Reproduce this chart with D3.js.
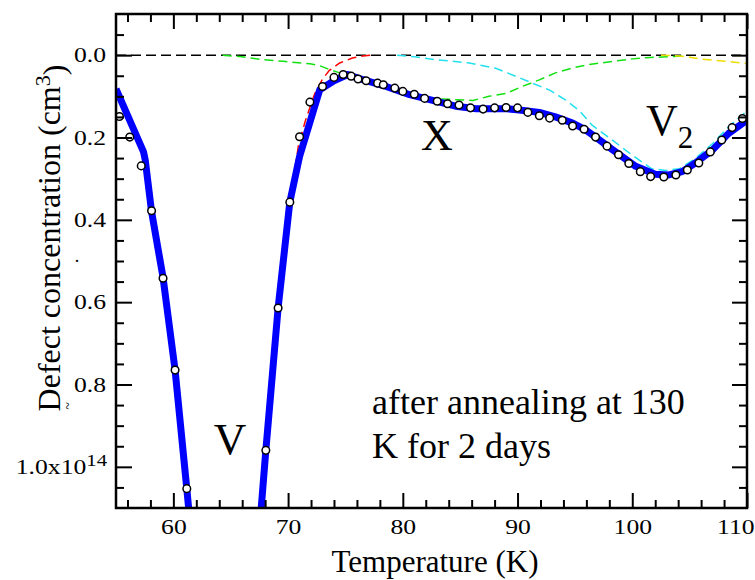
<!DOCTYPE html>
<meta charset="utf-8">
<head>
<script src="https://d3js.org/d3.v7.min.js"></script>
<style>
  body { margin: 0; background: #fff; }
  text { font-family: "Liberation Serif", "Times New Roman", serif; fill: #000; }
</style>
</head>
<body>
<div id="dlts"></div>
<script>
// fitted curve (blue)
var fitT = [55.0, 57.4, 57.55, 58.1, 59.1, 60.15, 61.17, 61.4,
            67.6, 68.06, 69.13, 70.15, 71.0, 72.76, 74.0, 75.2, 76.2, 78.55, 80.6, 82.6, 84.6, 86.4,
            89.0, 90.15, 91.9, 93.3, 94.8, 95.9, 97.1, 98.3, 100.3, 102.0, 103.2, 104.35, 105.5,
            107.0, 108.4, 110.0];
var fitV = [0.082, 0.235, 0.255, 0.38, 0.54, 0.765, 1.053, 1.12,
            1.12, 0.96, 0.614, 0.357, 0.246, 0.084, 0.062, 0.047, 0.057, 0.076, 0.096, 0.11, 0.124, 0.13,
            0.13, 0.133, 0.139, 0.15, 0.165, 0.181, 0.205, 0.23, 0.27, 0.289, 0.291, 0.283, 0.262,
            0.23, 0.19, 0.158];

// measured points (open circles)
var dataT = [55.3, 56.2, 57.2, 58.1, 59.1, 60.15, 61.17, 68.06, 69.13, 70.15, 71.0, 71.9,
             73.0, 74.0, 74.8, 75.5, 76.1, 76.8, 77.8, 78.3, 79.3, 80.0, 81.0, 81.9, 83.0, 83.9,
             84.9, 85.9, 87.0, 88.0, 89.0, 90.0, 90.9, 91.9, 92.8, 93.9, 94.8, 95.8, 96.8, 97.8,
             98.8, 99.7, 100.7, 101.6, 102.75, 103.8, 104.8, 105.8, 106.8, 107.8, 108.7, 109.6];
var dataV = [0.149, 0.199, 0.269, 0.378, 0.542, 0.765, 1.053, 0.96, 0.614, 0.357, 0.198, 0.114,
             0.076, 0.054, 0.047, 0.051, 0.058, 0.062, 0.068, 0.072, 0.080, 0.088, 0.095, 0.105, 0.112, 0.118,
             0.121, 0.128, 0.131, 0.128, 0.127, 0.128, 0.139, 0.147, 0.153, 0.158, 0.172, 0.180, 0.199, 0.221,
             0.242, 0.263, 0.283, 0.295, 0.296, 0.291, 0.279, 0.262, 0.235, 0.206, 0.176, 0.154];

// components (dashed)
var redT = [67.7, 68.06, 69.13, 70.15, 70.9, 71.5, 72.3, 73.0, 73.6, 74.5, 75.6, 76.5, 77.3];
var redV = [1.12, 0.96, 0.614, 0.357, 0.22, 0.16, 0.095, 0.058, 0.037, 0.019, 0.007, 0.002, 0.0];
var greenT = [64.3, 66.0, 67.5, 69.6, 71.9, 72.8, 73.6, 74.5, 75.5, 76.2, 78.0, 80.0, 82.0, 83.2,
              84.6, 86.1, 87.5, 89.0, 90.4, 91.9, 93.3, 94.8, 96.2, 98.3, 100.0, 101.2, 103.0, 104.5];
var greenV = [0.0, 0.004, 0.010, 0.015, 0.021, 0.026, 0.035, 0.043, 0.048, 0.053, 0.068, 0.088, 0.102, 0.106,
              0.108, 0.110, 0.100, 0.093, 0.076, 0.060, 0.043, 0.031, 0.023, 0.015, 0.009, 0.006, 0.004, 0.002];
var cyanT = [79.5, 81.0, 82.9, 85.8, 88.1, 89.9, 91.3, 92.8, 94.2, 95.4, 96.5, 98.3, 100.0, 101.7,
             102.9, 104.1, 105.5, 107.0, 108.4, 110.0];
var cyanV = [0.0, 0.004, 0.011, 0.019, 0.032, 0.052, 0.068, 0.085, 0.109, 0.135, 0.17, 0.207, 0.243, 0.276,
             0.28, 0.276, 0.251, 0.215, 0.174, 0.135];
var yellowT = [102.5, 104.1, 105.0, 106.1, 107.0, 108.5, 110.0];
var yellowV = [0.0, 0.002, 0.005, 0.010, 0.012, 0.016, 0.020];

var xMajor = [60, 70, 80, 90, 100, 110];
var xMinor = [56, 58, 62, 64, 66, 68, 72, 74, 76, 78, 82, 84, 86, 88, 92, 94, 96, 98, 102, 104, 106, 108];
var yMajor = [0.0, 0.2, 0.4, 0.6, 0.8, 1.0];
var yMinor = [-0.05, 0.05, 0.1, 0.15, 0.25, 0.3, 0.35, 0.45, 0.5, 0.55, 0.65, 0.7, 0.75, 0.85, 0.9, 0.95, 1.05];

var W = 755, H = 580;
var margin = {top: 14, right: 8, bottom: 72, left: 116},
    width = W - margin.left - margin.right,
    height = H - margin.top - margin.bottom;

var svg = d3.select("#dlts")
  .append("svg")
    .attr("width", W)
    .attr("height", H);

var g = svg.append("g")
    .attr("transform", "translate(" + margin.left + "," + margin.top + ")");

var x = d3.scaleLinear().domain([55, 110]).range([0, width]);
var y = d3.scaleLinear().domain([-0.1, 1.1]).range([0, height]);

g.append("clipPath").attr("id", "plotclip")
  .append("rect").attr("width", width).attr("height", height);

var plot = g.append("g").attr("clip-path", "url(#plotclip)");

function pts(T, V) { return T.map(function(t, i) { return [t, V[i]]; }); }
var line = d3.line().x(function(d) { return x(d[0]); }).y(function(d) { return y(d[1]); });

// zero line
plot.append("path")
  .datum([[55, 0], [110, 0]])
  .attr("d", line)
  .attr("fill", "none").attr("stroke", "#000").attr("stroke-width", 1.5)
  .attr("stroke-dasharray", "10,5");

// components
var comps = [
  {T: greenT, V: greenV, c: "#11e011"},
  {T: cyanT, V: cyanV, c: "#22e0ee"},
  {T: yellowT, V: yellowV, c: "#eedd00"},
  {T: redT, V: redV, c: "#ff0000"}
];
comps.forEach(function(s) {
  plot.append("path")
    .datum(pts(s.T, s.V))
    .attr("d", line)
    .attr("fill", "none").attr("stroke", s.c).attr("stroke-width", 1.5)
    .attr("stroke-dasharray", "9,5");
});

// fit
plot.append("path")
  .datum(pts(fitT, fitV))
  .attr("d", line)
  .attr("fill", "none").attr("stroke", "#0000ff").attr("stroke-width", 7)
  .attr("stroke-linejoin", "round");

// data points
plot.selectAll("circle.pt")
  .data(pts(dataT, dataV))
  .enter()
  .append("circle")
    .attr("class", "pt")
    .attr("cx", function(d) { return x(d[0]); })
    .attr("cy", function(d) { return y(d[1]); })
    .attr("r", 3.8)
    .attr("fill", "#fff").attr("stroke", "#000").attr("stroke-width", 1.5);

// axes, ticks pointing inward
function styleAxis(sel) {
  sel.select(".domain").remove();
  sel.selectAll("line").attr("stroke", "#000").attr("stroke-width", 2);
}
// tick labels in the original are a bit wider than tall
function widen(sel) {
  sel.style("font-size", "21px").style("font-family", "Liberation Serif")
    .each(function() {
      var L = this.getComputedTextLength();
      d3.select(this).attr("textLength", L * 1.22).attr("lengthAdjust", "spacingAndGlyphs");
    });
}

var xAx = g.append("g").attr("transform", "translate(0," + height + ")")
  .call(d3.axisBottom(x).tickValues(xMajor).tickSize(-15).tickPadding(11).tickFormat(d3.format("d")))
  .call(styleAxis);
xAx.selectAll("text").call(widen);
// last label is pulled inside the picture
xAx.selectAll("text").filter(function(d) { return d === 110; })
  .attr("text-anchor", "end").attr("x", 7);
g.append("g").attr("transform", "translate(0," + height + ")")
  .call(d3.axisBottom(x).tickValues(xMinor).tickSize(-8).tickFormat(""))
  .call(styleAxis);
g.append("g")
  .call(d3.axisTop(x).tickValues(xMajor).tickSize(-15).tickFormat(""))
  .call(styleAxis);
g.append("g")
  .call(d3.axisTop(x).tickValues(xMinor).tickSize(-8).tickFormat(""))
  .call(styleAxis);

var yAx = g.append("g")
  .call(d3.axisLeft(y).tickValues(yMajor).tickSize(-16).tickPadding(10).tickFormat(d3.format(".1f")))
  .call(styleAxis);
yAx.selectAll("text").filter(function(d) { return d === 1.0; })
  .text("1.0x10")
  .append("tspan").attr("dy", "-0.5em").style("font-size", "17px").text("14");
yAx.selectAll("text").call(widen);
yAx.selectAll("text").filter(function(d) { return d === 1.0; }).attr("x", -9);
g.append("g")
  .call(d3.axisLeft(y).tickValues(yMinor).tickSize(-8).tickFormat(""))
  .call(styleAxis);
g.append("g").attr("transform", "translate(" + width + ",0)")
  .call(d3.axisRight(y).tickValues(yMajor).tickSize(-15).tickFormat(""))
  .call(styleAxis);
g.append("g").attr("transform", "translate(" + width + ",0)")
  .call(d3.axisRight(y).tickValues(yMinor).tickSize(-8).tickFormat(""))
  .call(styleAxis);

// frame
g.append("rect")
  .attr("width", width).attr("height", height)
  .attr("fill", "none").attr("stroke", "#000").attr("stroke-width", 2.5);

// axis titles
svg.append("text")
  .attr("x", 435).attr("y", 572)
  .attr("text-anchor", "middle")
  .style("font-size", "31px")
  .text("Temperature (K)");

var yt = svg.append("text")
  .attr("transform", "translate(60,238) rotate(-90)")
  .attr("text-anchor", "middle")
  .style("font-size", "32px")
  .text("Defect concentration (cm");
yt.append("tspan").attr("dy", "-0.45em").style("font-size", "22px").text("3");
yt.append("tspan").attr("dy", "0.45em").text(")");

// stray marks left of the axis
svg.append("text").attr("x", 77).attr("y", 262).attr("text-anchor", "middle")
  .style("font-size", "18px").text(".");
svg.append("text").attr("transform", "translate(73,406) rotate(-90)").attr("text-anchor", "middle")
  .style("font-size", "14px").text("~");

// labels in the plot
svg.append("text").attr("x", 437).attr("y", 150).attr("text-anchor", "middle")
  .style("font-size", "44px").text("X");
svg.append("text").attr("x", 230).attr("y", 454).attr("text-anchor", "middle")
  .style("font-size", "45px").text("V");
var v2 = svg.append("text").attr("x", 646).attr("y", 135)
  .style("font-size", "44px").text("V");
v2.append("tspan").attr("dy", "13").style("font-size", "31px").text("2");

svg.append("text").attr("x", 372).attr("y", 414)
  .style("font-size", "36px").text("after annealing at 130");
svg.append("text").attr("x", 372).attr("y", 458)
  .style("font-size", "36px").text("K for 2 days");
</script>
</body>
